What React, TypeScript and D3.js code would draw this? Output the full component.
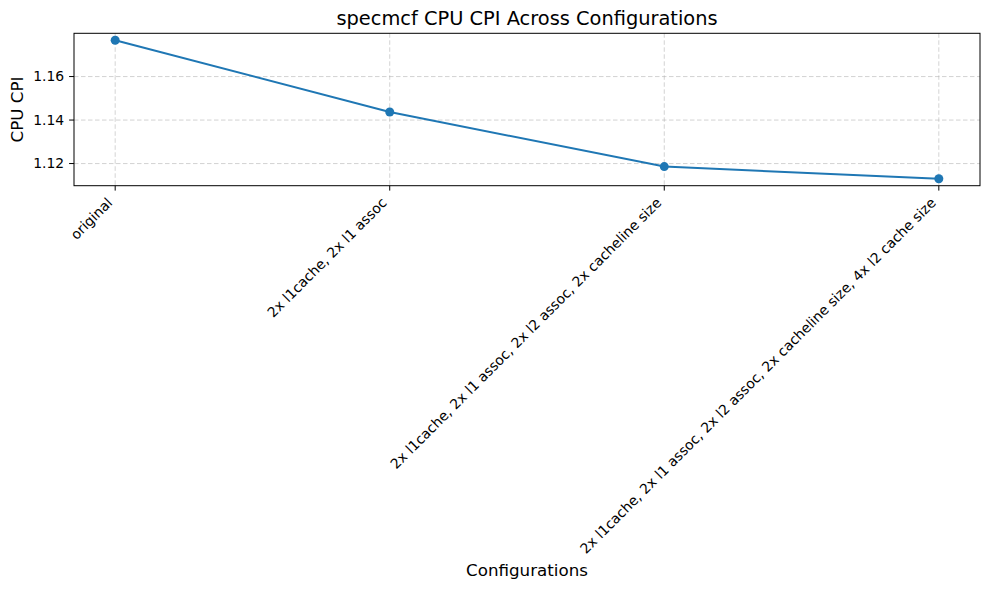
import React, { useEffect, useRef } from 'react';
import * as d3 from 'd3';

const configurations = [
    'original',
    '2x l1cache, 2x l1 assoc',
    '2x l1cache, 2x l1 assoc, 2x l2 assoc, 2x cacheline size',
    '2x l1cache, 2x l1 assoc, 2x l2 assoc, 2x cacheline size, 4x l2 cache size',
];
const cpuCpi = [1.1767, 1.1437, 1.1186, 1.1130];
const yTicks = [1.12, 1.14, 1.16];

const App = () => {
    const svgRef = useRef<SVGSVGElement>(null);

    useEffect(() => {
        document.body.style.margin = '0';
        const svg = d3.select(svgRef.current);
        svg.selectAll('*').remove();

        const width = 989;
        const height = 590;
        const margin = { top: 33.3, right: 9, bottom: 404.3, left: 74 };
        const font = 'DejaVu Sans, sans-serif';
        const color = '#1f77b4';

        const idx = configurations.map((_, i) => i);
        const pad = (idx.length - 1) * 0.05;
        const xScale = d3.scaleLinear()
            .domain([-pad, idx.length - 1 + pad])
            .range([margin.left, width - margin.right]);

        const ext = d3.extent(cpuCpi) as [number, number];
        const ypad = (ext[1] - ext[0]) * 0.05;
        const yScale = d3.scaleLinear()
            .domain([ext[0] - ypad, ext[1] + ypad])
            .range([height - margin.bottom, margin.top]);

        const y0 = height - margin.bottom;
        const x1 = width - margin.right;

        svg.append('rect')
            .attr('width', width).attr('height', height).attr('fill', 'white');

        // grid
        const grid = svg.append('g')
            .attr('stroke', '#b0b0b0')
            .attr('stroke-opacity', 0.7)
            .attr('stroke-width', 0.8)
            .attr('stroke-dasharray', '4.5,2.5');
        grid.selectAll('line.gx').data(idx).enter().append('line')
            .attr('x1', d => xScale(d)).attr('x2', d => xScale(d))
            .attr('y1', margin.top).attr('y2', y0);
        grid.selectAll('line.gy').data(yTicks).enter().append('line')
            .attr('x1', margin.left).attr('x2', x1)
            .attr('y1', d => yScale(d)).attr('y2', d => yScale(d));

        // line + markers
        const line = d3.line<number>()
            .x((_, i) => xScale(i))
            .y(d => yScale(d));
        svg.append('path')
            .datum(cpuCpi)
            .attr('d', line)
            .attr('fill', 'none')
            .attr('stroke', color)
            .attr('stroke-width', 2);
        svg.selectAll('circle').data(cpuCpi).enter().append('circle')
            .attr('cx', (_, i) => xScale(i))
            .attr('cy', d => yScale(d))
            .attr('r', 4.5)
            .attr('fill', color);

        // frame
        svg.append('rect')
            .attr('x', margin.left).attr('y', margin.top)
            .attr('width', x1 - margin.left).attr('height', y0 - margin.top)
            .attr('fill', 'none').attr('stroke', 'black').attr('stroke-width', 1);

        // x ticks
        const xt = svg.append('g');
        idx.forEach(i => {
            const x = xScale(i);
            xt.append('line')
                .attr('x1', x).attr('x2', x).attr('y1', y0).attr('y2', y0 + 4.9)
                .attr('stroke', 'black').attr('stroke-width', 1);
            xt.append('text')
                .attr('transform', `translate(${x - 2},${y0 + 18}) rotate(-45)`)
                .attr('text-anchor', 'end')
                .attr('font-family', font)
                .attr('font-size', 13.9)
                .text(configurations[i]);
        });

        // y ticks
        const yt = svg.append('g');
        yTicks.forEach(t => {
            const y = yScale(t);
            yt.append('line')
                .attr('x1', margin.left - 4.9).attr('x2', margin.left).attr('y1', y).attr('y2', y)
                .attr('stroke', 'black').attr('stroke-width', 1);
            yt.append('text')
                .attr('x', margin.left - 9.8).attr('y', y)
                .attr('dy', '0.35em')
                .attr('text-anchor', 'end')
                .attr('font-family', font)
                .attr('font-size', 13.9)
                .text(t.toFixed(2));
        });

        // title and labels
        svg.append('text')
            .attr('x', (margin.left + x1) / 2).attr('y', 25)
            .attr('text-anchor', 'middle')
            .attr('font-family', font).attr('font-size', 19.4)
            .text('specmcf CPU CPI Across Configurations');
        svg.append('text')
            .attr('x', (margin.left + x1) / 2).attr('y', 576)
            .attr('text-anchor', 'middle')
            .attr('font-family', font).attr('font-size', 16.7)
            .text('Configurations');
        svg.append('text')
            .attr('transform', `translate(23,${(margin.top + y0) / 2}) rotate(-90)`)
            .attr('text-anchor', 'middle')
            .attr('font-family', font).attr('font-size', 16.7)
            .text('CPU CPI');
    }, []);

    return <svg ref={svgRef} width={989} height={590} style={{ display: 'block' }}></svg>;
};

export default App;
